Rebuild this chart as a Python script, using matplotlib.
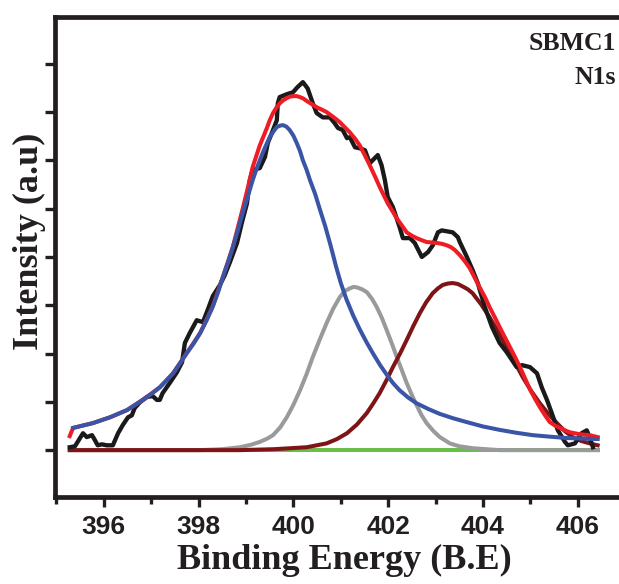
import matplotlib
matplotlib.use("Agg")
import matplotlib.pyplot as plt
from matplotlib.ticker import MultipleLocator, NullFormatter

# N1s spectrum of SBMC1
# (binding energy in eV, intensity in arbitrary units)
raw_be = [395.28, 395.39, 395.56, 395.64, 395.75, 395.81, 395.87, 395.96, 396.06, 396.19,
          396.30, 396.40, 396.51, 396.59, 396.65, 396.76, 396.91, 397.03, 397.12, 397.18,
          397.24, 397.39, 397.54, 397.65, 397.71, 397.81, 397.96, 398.09, 398.19, 398.30,
          398.45, 398.55, 398.66, 398.81, 398.91, 399.02, 399.08, 399.14, 399.29, 399.40,
          399.46, 399.57, 399.65, 399.67, 399.71, 399.86, 399.99, 400.09, 400.20, 400.30,
          400.41, 400.49, 400.62, 400.77, 400.87, 400.94, 401.04, 401.13, 401.19, 401.30,
          401.40, 401.51, 401.61, 401.78, 401.86, 401.93, 401.99, 402.10, 402.24, 402.31,
          402.46, 402.56, 402.71, 402.84, 402.94, 403.05, 403.13, 403.36, 403.47, 403.51,
          403.66, 403.78, 403.89, 404.04, 404.19, 404.35, 404.50, 404.71, 404.82, 404.99,
          405.14, 405.24, 405.35, 405.45, 405.58, 405.73, 405.79, 405.94, 406.08, 406.19,
          406.25, 406.32]
raw_int = [0.06, 0.08, 0.35, 0.27, 0.31, 0.21, 0.10, 0.12, 0.10, 0.10,
           0.35, 0.52, 0.68, 0.72, 0.87, 0.99, 1.10, 1.12, 1.04, 1.04,
           1.18, 1.39, 1.61, 1.82, 2.22, 2.42, 2.69, 2.65, 2.90, 3.19,
           3.42, 3.62, 3.89, 4.29, 4.70, 5.11, 5.59, 5.80, 5.84, 6.07,
           6.36, 6.63, 6.83, 7.18, 7.31, 7.37, 7.41, 7.52, 7.62, 7.49,
           7.18, 6.98, 6.89, 6.89, 6.77, 6.67, 6.63, 6.46, 6.48, 6.27,
           6.25, 6.21, 5.94, 6.11, 5.90, 5.59, 5.24, 5.03, 4.62, 4.39,
           4.39, 4.29, 4.00, 4.10, 4.24, 4.51, 4.55, 4.51, 4.41, 4.31,
           4.00, 3.73, 3.46, 2.96, 2.55, 2.22, 2.03, 1.72, 1.76, 1.72,
           1.59, 1.30, 1.04, 0.77, 0.41, 0.17, 0.10, 0.14, 0.35, 0.41,
           0.27, 0.06]

# cumulative fit (envelope)
fit_be = [395.28, 395.35, 395.77, 396.13, 396.49, 396.82, 397.18, 397.46, 397.75, 398.03,
          398.30, 398.51, 398.72, 398.93, 399.04, 399.14, 399.22, 399.29, 399.37, 399.44,
          399.50, 399.57, 399.64, 399.71, 399.78, 399.86, 399.93, 399.99, 400.07, 400.14,
          400.21, 400.28, 400.38, 400.49, 400.60, 400.70, 400.84, 400.98, 401.08, 401.19,
          401.30, 401.40, 401.50, 401.61, 401.72, 401.82, 401.91, 401.99, 402.09, 402.18,
          402.29, 402.39, 402.50, 402.60, 402.70, 402.81, 402.92, 403.03, 403.14, 403.24,
          403.33, 403.41, 403.51, 403.61, 403.72, 403.82, 403.93, 404.04, 404.14, 404.25,
          404.35, 404.46, 404.57, 404.68, 404.78, 404.89, 404.99, 405.10, 405.20, 405.31,
          405.41, 405.52, 405.62, 405.73, 405.83, 406.04, 406.25, 406.42]
fit_int = [0.29, 0.46, 0.56, 0.68, 0.83, 1.04, 1.30, 1.59, 2.01, 2.42,
           2.98, 3.58, 4.20, 5.00, 5.44, 5.86, 6.10, 6.31, 6.50, 6.67,
           6.83, 6.98, 7.09, 7.18, 7.24, 7.29, 7.32, 7.33, 7.33, 7.31,
           7.28, 7.23, 7.17, 7.10, 7.05, 7.00, 6.90, 6.79, 6.69, 6.58,
           6.45, 6.31, 6.12, 5.90, 5.67, 5.45, 5.27, 5.11, 4.95, 4.80,
           4.65, 4.51, 4.44, 4.39, 4.35, 4.31, 4.30, 4.29, 4.27, 4.24,
           4.20, 4.14, 4.04, 3.92, 3.77, 3.58, 3.37, 3.17, 2.96, 2.75,
           2.55, 2.34, 2.13, 1.92, 1.72, 1.48, 1.26, 1.06, 0.89, 0.72,
           0.58, 0.51, 0.46, 0.41, 0.37, 0.33, 0.31, 0.27]

# component 1 (blue, ~399.8 eV)
p1_be = [395.35, 395.77, 396.13, 396.49, 396.82, 397.00, 397.18, 397.32, 397.46, 397.60,
         397.75, 397.89, 398.03, 398.17, 398.30, 398.41, 398.51, 398.62, 398.72, 398.83,
         398.93, 399.04, 399.14, 399.25, 399.35, 399.43, 399.50, 399.58, 399.65, 399.72,
         399.78, 399.85, 399.92, 400.00, 400.07, 400.14, 400.20, 400.28, 400.35, 400.46,
         400.56, 400.67, 400.77, 400.84, 400.90, 401.00, 401.12, 401.26, 401.40, 401.54,
         401.68, 401.83, 401.97, 402.10, 402.24, 402.42, 402.60, 402.85, 403.09, 403.37,
         403.66, 404.00, 404.35, 404.70, 405.05, 405.40, 405.77, 406.10, 406.42]
p1_int = [0.46, 0.56, 0.68, 0.83, 1.04, 1.16, 1.30, 1.44, 1.59, 1.79,
          2.01, 2.20, 2.42, 2.69, 2.98, 3.27, 3.58, 3.89, 4.20, 4.56,
          4.91, 5.26, 5.59, 5.90, 6.15, 6.33, 6.48, 6.60, 6.69, 6.72,
          6.73, 6.70, 6.63, 6.51, 6.36, 6.19, 6.00, 5.80, 5.59, 5.30,
          4.98, 4.64, 4.29, 4.03, 3.80, 3.46, 3.12, 2.79, 2.50, 2.24,
          2.00, 1.76, 1.56, 1.39, 1.24, 1.09, 0.97, 0.85, 0.75, 0.66,
          0.58, 0.49, 0.42, 0.36, 0.31, 0.28, 0.25, 0.24, 0.23]

# component 2 (grey, ~401.3 eV)
p2_be = [395.28, 398.03, 398.50, 398.87, 399.10, 399.29, 399.45, 399.57, 399.72, 399.86,
         400.00, 400.14, 400.28, 400.41, 400.56, 400.70, 400.84, 400.98, 401.08, 401.19,
         401.27, 401.34, 401.45, 401.55, 401.66, 401.76, 401.87, 401.97, 402.08, 402.18,
         402.29, 402.39, 402.50, 402.60, 402.70, 402.81, 402.95, 403.09, 403.30, 403.50,
         403.78, 404.35, 406.42]
p2_int = [0.00, 0.00, 0.02, 0.06, 0.11, 0.17, 0.24, 0.31, 0.47, 0.68,
          0.94, 1.24, 1.58, 1.93, 2.30, 2.63, 2.93, 3.17, 3.29, 3.35,
          3.38, 3.37, 3.33, 3.27, 3.13, 2.96, 2.73, 2.48, 2.20, 1.93,
          1.65, 1.39, 1.14, 0.93, 0.73, 0.56, 0.40, 0.27, 0.14, 0.08,
          0.04, 0.00, 0.00]

# component 3 (dark red, ~403.4 eV)
p3_be = [395.28, 398.87, 399.60, 400.28, 400.70, 400.92, 401.13, 401.34, 401.55, 401.68,
         401.82, 401.96, 402.10, 402.25, 402.39, 402.53, 402.67, 402.80, 402.94, 403.05,
         403.15, 403.26, 403.36, 403.47, 403.57, 403.68, 403.78, 403.96, 404.14, 404.32,
         404.50, 404.67, 404.84, 405.02, 405.20, 405.38, 405.56, 405.72, 405.89, 406.07,
         406.25, 406.42]
p3_int = [0.00, 0.00, 0.02, 0.06, 0.14, 0.23, 0.35, 0.53, 0.77, 0.96,
          1.18, 1.44, 1.72, 2.00, 2.28, 2.57, 2.84, 3.06, 3.25, 3.35,
          3.42, 3.45, 3.46, 3.44, 3.39, 3.33, 3.25, 3.02, 2.75, 2.45,
          2.13, 1.82, 1.51, 1.22, 0.97, 0.75, 0.56, 0.40, 0.27, 0.19,
          0.14, 0.10]

# background
bg_be = [395.28, 406.42]
bg_int = [0.0, 0.0]

ink = "#231f20"

fig = plt.figure(figsize=(6.19, 5.84), dpi=100)
ax = fig.add_axes([0.0889, 0.149, 0.9111, 0.822])

ax.plot(bg_be, bg_int, color="#6abf4b", lw=2.9, zorder=1)
ax.plot(p2_be, p2_int, color="#999a9c", lw=2.9, zorder=2)
ax.plot(p3_be, p3_int, color="#7f1416", lw=2.9, zorder=3)
ax.plot(raw_be, raw_int, color="#1a1a1a", lw=3.1, zorder=4)
ax.plot(fit_be, fit_int, color="#ee1c24", lw=2.9, zorder=5)
ax.plot(p1_be, p1_int, color="#3a55a6", lw=2.9, zorder=6)

ax.set_xlim(394.97, 406.87)
ax.set_ylim(-0.97, 8.97)

ax.xaxis.set_major_locator(MultipleLocator(2))
ax.xaxis.set_minor_locator(MultipleLocator(1))
ax.yaxis.set_major_locator(MultipleLocator(1))
ax.yaxis.set_major_formatter(NullFormatter())

for side in ["left", "bottom", "top"]:
    ax.spines[side].set_linewidth(3.4)
    ax.spines[side].set_color(ink)
ax.spines["right"].set_visible(False)

ax.tick_params(axis="x", which="major", direction="out", length=7, width=2.4,
               colors=ink, pad=6)
ax.tick_params(axis="x", which="minor", direction="out", length=5, width=2.4, colors=ink)
ax.tick_params(axis="y", which="major", direction="out", length=7, width=2.4, colors=ink)
ax.tick_params(top=False, right=False)

for lab in ax.get_xticklabels():
    lab.set_fontfamily("Liberation Sans")
    lab.set_fontweight("bold")
    lab.set_fontsize(19)
    lab.set_color(ink)

# axis titles placed in figure coordinates, centred where the reference has them
fig.text(344 / 619, 1 - 560 / 584, "Binding Energy (B.E)", ha="center", va="center",
         family="Liberation Serif", weight="bold", fontsize=26, color=ink)
fig.text(29 / 619, 343 / 584, "Intensity (a.u)", rotation=90, ha="center", va="center",
         family="Liberation Serif", weight="bold", fontsize=26, color=ink)

ax.text(0.995, 0.945, "SBMC1", transform=ax.transAxes, ha="right", va="center",
        family="Liberation Serif", weight="bold", fontsize=18.5, color=ink)
ax.text(0.995, 0.873, "N1s", transform=ax.transAxes, ha="right", va="center",
        family="Liberation Serif", weight="bold", fontsize=18.5, color=ink)

fig.savefig("out.png", dpi=100)
